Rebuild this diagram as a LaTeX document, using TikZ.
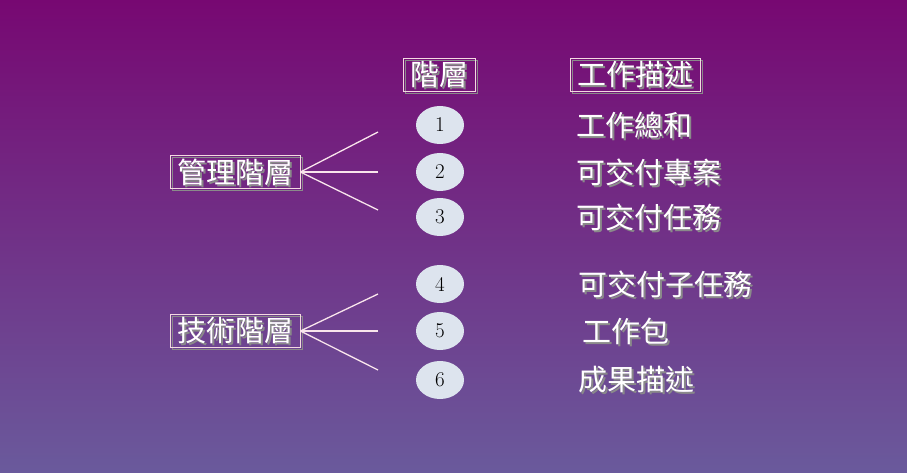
\documentclass[tikz,border=0pt]{standalone}
\usepackage{fontspec}
\newfontfamily\cjk{Noto Sans CJK TC}
\definecolor{bgtop}{HTML}{770872}
\definecolor{bgbot}{HTML}{6A5A9C}
\definecolor{ovalfill}{HTML}{DDE4EE}
\definecolor{shade}{HTML}{8A8A8A}
\tikzset{
	txt/.style={font=\cjk\fontsize{29}{29}\selectfont, text=white, inner sep=1pt},
	txtsh/.style={font=\cjk\fontsize{29}{29}\selectfont, text=shade, inner sep=1pt},
	boxed/.style={draw=white!85!purple, line width=0.8pt, inner xsep=7pt, inner ysep=3pt},
	num/.style={ellipse, fill=ovalfill, minimum width=48pt, minimum height=38pt, inner sep=0pt, text=black, font=\fontsize{21}{21}\selectfont},
	branch/.style={draw=white!90!purple, line width=1.3pt}
}
\usetikzlibrary{shapes.geometric}
\begin{document}
\begin{tikzpicture}[x=1pt,y=-1pt]
	\shade [top color=bgtop, bottom color=bgbot] (0,0) rectangle (907,473);
	\useasboundingbox (0,0) rectangle (907,473);
	% headers
	\foreach \name/\x/\t in {hlev/439/階層, hdesc/635/工作描述} {
		\node [txtsh, boxed, draw=shade, text opacity=0] at (\x+2,77) {\t};
		\node [txtsh] at (\x+2,77) {\t};
		\node [txt, boxed] (\name) at (\x,75) {\t};
	}
	% levels
	\foreach \n/\y in {1/125, 2/172, 3/217, 4/284, 5/331, 6/380}
		\node [num] (o\n) at (440,\y) {\n};
	% descriptions
	\foreach \n/\x/\y/\t in {1/575/125/工作總和, 2/575/172/可交付專案, 3/575/217/可交付任務,
		4/577/284/可交付子任務, 5/581/331/工作包, 6/577/380/成果描述} {
		\node [txtsh, anchor=west] at (\x+2,\y+2) {\t};
		\node [txt, anchor=west] (d\n) at (\x,\y) {\t};
	}
	% groups
	\foreach \name/\y/\t in {mgmt/172/管理階層, tech/331/技術階層} {
		\node [txtsh, boxed, draw=shade, text opacity=0] at (237,\y+2) {\t};
		\node [txtsh] at (237,\y+2) {\t};
		\node [txt, boxed] (\name) at (235,\y) {\t};
	}
	\coordinate (m1) at (378,132); \coordinate (m2) at (378,172); \coordinate (m3) at (378,210);
	\coordinate (t1) at (378,294); \coordinate (t2) at (378,331); \coordinate (t3) at (378,370);
	\foreach \c in {m1,m2,m3} \draw [branch] (mgmt.east) -- (\c);
	\foreach \c in {t1,t2,t3} \draw [branch] (tech.east) -- (\c);
\end{tikzpicture}
\end{document}
